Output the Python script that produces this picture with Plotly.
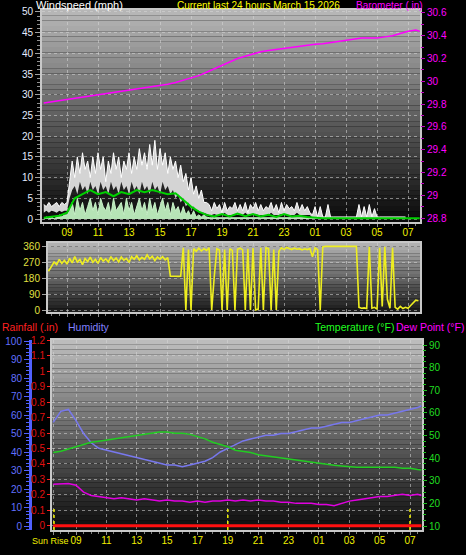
import plotly.graph_objects as go

W, H = 466, 555
def fx(px): return px / W
def fy(py): return 1 - py / H

FONT = "Liberation Sans, Arial, sans-serif"

# ---------------- time grids (hours since midnight Mar 14) ----------------
t10 = [round(7.5 + i / 6, 4) for i in range(146)]          # 10-minute samples
t30 = [7.5 + 0.5 * k for k in range(49)] + [31.75]          # 30-minute samples

hour_ticks = [9, 11, 13, 15, 17, 19, 21, 23, 25, 27, 29, 31]
hour_labels = ["09", "11", "13", "15", "17", "19", "21", "23", "01", "03", "05", "07"]
sun_times = [7.55, 19.0, 31.0]
sun_label = "Sun Rise"

# ---------------- wind (mph) ----------------
gust = [3.5, 3, 4, 3, 3.5, 4, 3, 4, 3.5, 4,
        9, 14, 10, 15, 11, 16, 12, 14, 10, 15, 11, 16, 12, 15, 9, 14, 11, 16, 12, 15,
        10, 14, 12, 16, 11, 15, 12, 17, 13, 16, 12, 18, 13, 19, 12, 17, 13, 16, 11, 15,
        12, 14, 10, 13, 9, 11, 7, 10, 6, 8, 5, 7, 4, 4,
        3.5, 2, 4, 2.5, 3.5, 1.5, 4, 2, 3, 2.5, 4, 2, 3.5, 2, 4, 1.5, 3.5, 2.5, 4, 2, 3.5, 2,
        3, 2.5, 4, 2, 3.5, 1.5, 4, 2, 3.5, 2.5, 3, 2, 4, 2, 3.5, 2, 3, 1.5,
        1, 3, 0.5, 3, 0.5, 0.5, 3.5, 0.5, 0.5, 0.5, 0.5, 0.5, 0.5, 0.5, 0.5, 0.5, 0.5, 0.5,
        3.5, 0.5, 3, 0.5, 3.5, 0.5, 2.5, 0.5, 0.5, 0.5, 0.5, 0.5, 0.5, 0.5, 0.5, 0.5, 0.5, 0.5, 0.5]
gust_low = [1.5, 2, 1.5, 2, 1.8, 1.5, 2, 1.7, 2, 2,
            5, 7, 8, 6, 9, 7, 8, 6, 9, 7, 8, 6, 9, 7, 8, 6, 9, 7, 8, 6,
            9, 7, 8, 6, 9, 7, 8, 6, 9, 7, 8, 6, 9, 7, 8, 6, 9, 7, 8, 6,
            7, 5, 6, 4, 5, 3, 4, 2.5, 3, 2, 2, 1.5, 1.5, 1.2,
            1, 1, 1.2, 1, 1, 1, 1.5, 1, 1, 1, 1.2, 1, 1, 1, 1.5, 1, 1, 1, 1.2, 1, 1, 1,
            1, 1, 1.5, 1, 1, 1, 1.2, 1, 1, 1, 1, 1, 1.5, 1, 1, 1, 1, 1,
            0.3, 0.3, 0.3, 0.3, 0.3, 0.3, 0.3, 0.3, 0.3, 0.3, 0.3, 0.3, 0.3, 0.3, 0.3, 0.3, 0.3, 0.3,
            0.3, 0.3, 0.3, 0.3, 0.3, 0.3, 0.3, 0.3, 0.3, 0.3, 0.3, 0.3, 0.3, 0.3, 0.3, 0.3, 0.3, 0.3, 0.3]
speed = [0, 0.5, 0, 0.5, 0, 0.5, 1, 0.5, 1, 1,
         2, 4, 1, 5, 2, 4, 1, 3, 5, 2, 4, 1, 5, 3, 2, 4, 1, 5, 2, 3,
         4, 1, 5, 2, 4, 1, 3, 5, 2, 4, 1, 5, 2, 4, 1, 3, 5, 2, 4, 1,
         4, 2, 3, 1, 3, 1, 2, 0.5, 2, 0.5, 1, 0.5, 1, 0.5,
         0.3, 0.3, 0.3, 0.3, 0.3, 0.3, 0.3, 0.3, 0.3, 0.3, 0.3, 0.3, 0.3, 0.3, 0.3, 0.3, 0.3, 0.3, 0.3, 0.3, 0.3, 0.3,
         0.3, 0.3, 0.3, 0.3, 0.3, 0.3, 0.3, 0.3, 0.3, 0.3, 0.3, 0.3, 0.3, 0.3, 0.3, 0.3, 0.3, 0.3,
         0.3, 0.3, 0.3, 0.3, 0.3, 0.3, 0.3, 0.3, 0.3, 0.3, 0.3, 0.3, 0.3, 0.3, 0.3, 0.3, 0.3, 0.3,
         0.3, 0.3, 0.3, 0.3, 0.3, 0.3, 0.3, 0.3, 0.3, 0.3, 0.3, 0.3, 0.3, 0.3, 0.3, 0.3, 0.3, 0.3, 0.3]
wind_avg = [0.3, 0.5, 0.8, 1.5, 5, 6, 7, 6, 6.5, 5.5, 6.5, 6, 7, 6.5, 7, 6.5, 6, 6.2,
            4.5, 3, 1.8, 1, 0.6, 1.2, 0.6, 1.3, 0.7, 1.2, 0.6, 1.0, 0.5, 1.2, 0.6, 0.8, 0.5,
            0.3, 0.2, 0.2, 0.2, 0.2, 0.2, 0.2, 0.2, 0.2, 0.2, 0.2, 0.2, 0.2, 0.2, 0.2]

# ---------------- barometer (in) ----------------
baro = [29.81, 29.82, 29.83, 29.84, 29.85, 29.86, 29.87, 29.88, 29.89, 29.90,
        29.91, 29.92, 29.93, 29.94, 29.95, 29.96, 29.975, 29.99, 30.01, 30.03,
        30.05, 30.08, 30.11, 30.14, 30.17, 30.20, 30.22, 30.24, 30.26, 30.27,
        30.28, 30.29, 30.30, 30.31, 30.32, 30.325, 30.33, 30.34, 30.35, 30.36,
        30.37, 30.38, 30.38, 30.38, 30.39, 30.40, 30.42, 30.44, 30.45, 30.44]

# ---------------- wind direction (deg) ----------------
wind_dir = [215, 225, 222, 245, 270, 255, 285, 262, 280, 258,
            290, 265, 300, 270, 285, 255, 290, 272, 298, 268,
            285, 262, 295, 275, 288, 270, 300, 278, 292, 270,
            298, 280, 290, 268, 300, 285, 305, 282, 296, 285,
            310, 288, 302, 278, 298, 286, 300, 282, 295, 190,
            188, 190, 189, 190, 350, 0, 340, 0, 345, 330,
            348, 332, 345, 335, 350, 0, 190, 345, 338, 0,
            340, 0, 345, 335, 0, 342, 348, 338, 0, 345,
            0, 348, 0, 5, 350, 0, 350, 345, 0, 340,
            0, 330, 350, 340, 352, 345, 340, 348, 342, 345,
            338, 344, 340, 346, 300, 350, 340, 0, 355, 358,
            358, 358, 358, 358, 358, 358, 358, 358, 358, 358,
            358, 358, 15, 10, 12, 8, 355, 10, 15, 5,
            350, 20, 355, 60, 10, 350, 15, 5, 20, 8,
            15, 10, 25, 40, 55, 52]

# ---------------- humidity / temperature / dew point / rain ----------------
humidity = [56, 62, 63, 57, 50, 45, 42, 41, 40, 39, 38, 37, 36, 35, 34, 33, 33, 32, 33, 34,
            35, 37, 40, 42, 44, 46, 47, 48, 49, 49, 50, 50, 51, 52, 53, 53, 54, 55, 56, 56,
            57, 58, 59, 60, 60, 61, 62, 63, 64, 65]
temperature = [42.5, 43, 44, 45, 46, 47, 47.5, 48, 48.5, 49, 49.5, 50, 50.5, 51, 51.5, 51.5,
               51, 51, 50.5, 49.5, 48.5, 47, 46, 45, 43.5, 43, 42.5, 41.5, 41, 40.5, 40, 39.5,
               39, 38.5, 38, 37.5, 37, 36.8, 36.5, 36.2, 36, 36, 36, 36, 36, 36, 35.5, 35.5, 35, 34.8]
dew_point = [28.5, 28.5, 28.8, 28, 25, 23.5, 23, 22.5, 22, 22.5, 22, 21.5, 22, 21.5, 21, 21.5,
             21, 21, 20.5, 21, 20.5, 21, 21, 21.5, 21, 21.5, 21, 21.5, 21, 21, 20.5, 20.5,
             20, 20, 20, 19.5, 19.5, 19, 20, 21, 21.5, 22, 22.5, 23, 23, 23.5, 24, 23.5, 24, 23.5]
rainfall = [0, 0, 0, 0, 0, 0, 0, 0, 0, 0, 0, 0, 0, 0, 0, 0, 0, 0, 0, 0, 0, 0, 0, 0, 0,
            0, 0, 0, 0, 0, 0, 0, 0, 0, 0, 0, 0, 0, 0, 0, 0, 0, 0, 0, 0, 0, 0, 0, 0, 0]

fig = go.Figure()

# wind panel
fig.add_trace(go.Scatter(x=t10, y=gust_low, mode="lines", line=dict(width=0, color="rgba(0,0,0,0)"),
                         xaxis="x", yaxis="y", showlegend=False, hoverinfo="skip"))
fig.add_trace(go.Scatter(x=t10, y=gust, mode="lines", fill="tonexty", fillcolor="#d4d4d4",
                         line=dict(width=1, color="#ffffff"), xaxis="x", yaxis="y", showlegend=False))
fig.add_trace(go.Scatter(x=t10, y=speed, mode="lines", fill="tozeroy", fillcolor="#b6e4b6",
                         line=dict(width=1, color="#c8f2c8"), xaxis="x", yaxis="y", showlegend=False))
fig.add_trace(go.Scatter(x=t30, y=wind_avg, mode="lines", line=dict(width=2, color="#00d000"),
                         xaxis="x", yaxis="y", showlegend=False))
fig.add_trace(go.Scatter(x=t30, y=baro, mode="lines", line=dict(width=1.5, color="#ff00ff"),
                         xaxis="x", yaxis="y2", showlegend=False))
# direction panel
fig.add_trace(go.Scatter(x=t10, y=wind_dir, mode="lines", line=dict(width=1.6, color="#eeee20"),
                         xaxis="x2", yaxis="y3", showlegend=False))
# bottom panel
fig.add_trace(go.Scatter(x=t30, y=humidity, mode="lines", line=dict(width=1.5, color="#7878ee"),
                         xaxis="x3", yaxis="y6", showlegend=False))
fig.add_trace(go.Scatter(x=t30, y=temperature, mode="lines", line=dict(width=1.5, color="#22cc22"),
                         xaxis="x3", yaxis="y7", showlegend=False))
fig.add_trace(go.Scatter(x=t30, y=dew_point, mode="lines", line=dict(width=1.5, color="#e000e0"),
                         xaxis="x3", yaxis="y7", showlegend=False))
fig.add_trace(go.Scatter(x=t30, y=rainfall, mode="lines", line=dict(width=3, color="#ff1010"),
                         xaxis="x3", yaxis="y5", showlegend=False))

# gradient backgrounds
shapes = []
def gradient(x0, x1, y0, y1, ctop, cbot, n=40):
    for k in range(n):
        a = k / (n - 1)
        c = [round(ctop[j] + (cbot[j] - ctop[j]) * a) for j in range(3)]
        ya = y0 + (y1 - y0) * k / n
        yb = y0 + (y1 - y0) * (k + 1) / n
        shapes.append(dict(type="rect", xref="paper", yref="paper", x0=fx(x0), x1=fx(x1),
                           y0=fy(yb), y1=fy(ya), line=dict(width=0),
                           fillcolor="rgb(%d,%d,%d)" % tuple(c), layer="below"))
gradient(42, 420, 10, 222, (182, 182, 182), (10, 10, 10))
gradient(48, 420, 243, 312, (178, 178, 178), (28, 28, 28), n=20)
gradient(52, 422, 340, 530, (188, 188, 188), (14, 14, 14))

for st in sun_times:
    shapes.append(dict(type="line", xref="x3", yref="paper", x0=st, x1=st, y0=fy(530), y1=fy(507),
                       line=dict(color="#f0f000", width=1.5, dash="dot")))

grid = "rgba(215,215,215,0.55)"
axis_font = dict(family=FONT, size=10)
xtick_font = dict(family=FONT, size=10, color="#f0f000")

def xaxis(dom, anchor, rng, labels=True, vals=hour_ticks, texts=hour_labels):
    return dict(domain=[fx(dom[0]), fx(dom[1])], anchor=anchor, range=rng,
                tickmode="array", tickvals=vals, ticktext=texts, showticklabels=labels,
                tickangle=0, tickfont=xtick_font, ticks="outside", ticklen=3, tickcolor="#909090",
                ticklabelstandoff=-3,
                showgrid=True, gridcolor=grid, griddash="dot", gridwidth=1,
                showline=True, linecolor="#c8c8c8", linewidth=2, mirror=True, zeroline=False,
                minor=dict(tickmode="linear", tick0=7, dtick=0.5, ticks="outside", ticklen=2,
                           tickcolor="#808080", showgrid=False))

layout = dict(
    width=W, height=H, margin=dict(l=0, r=0, t=0, b=0, autoexpand=False),
    paper_bgcolor="#000000", plot_bgcolor="rgba(0,0,0,0)",
    showlegend=False, font=dict(family=FONT),
    xaxis=xaxis((42, 420), "y", [7.387, 31.77]),
    xaxis2=xaxis((48, 420), "y3", [7.774, 31.77], labels=False),
    xaxis3=xaxis((52, 422), "y5", [7.419, 31.79], vals=[sun_times[0]] + hour_ticks,
                 texts=[""] + hour_labels),
    yaxis=dict(domain=[fy(222), fy(10)], anchor="x", range=[-0.72, 50.48],
               tickmode="linear", tick0=0, dtick=5, ticks="outside", ticklen=5, tickcolor="#a0a0a0",
               tickfont=dict(axis_font, color="#e4ecff"), showgrid=True, gridcolor=grid,
               griddash="dot", showline=True, linecolor="#c8c8c8", linewidth=2, mirror=True,
               zeroline=False, minor=dict(dtick=1, ticks="outside", ticklen=3, tickcolor="#909090")),
    yaxis2=dict(overlaying="y", side="right", anchor="x", range=[28.765, 30.626],
                tickmode="array", tickvals=[28.8, 29, 29.2, 29.4, 29.6, 29.8, 30, 30.2, 30.4, 30.6],
                ticktext=["28.8", "29", "29.2", "29.4", "29.6", "29.8", "30", "30.2", "30.4", "30.6"],
                ticks="outside", ticklen=4, tickcolor="#c000c0",
                tickfont=dict(axis_font, color="#ff00ff"), showgrid=False, zeroline=False,
                minor=dict(tickmode="linear", tick0=28.8, dtick=0.1, ticks="outside", ticklen=3,
                           tickcolor="#c000c0")),
    yaxis3=dict(domain=[fy(312), fy(243)], anchor="x2", range=[-11.25, 376.9],
                tickmode="array", tickvals=[0, 90, 180, 270, 360], ticks="outside", ticklen=4,
                tickcolor="#a0a0a0", tickfont=dict(axis_font, color="#e0e040"),
                showgrid=True, gridcolor=grid, griddash="dot", showline=True, linecolor="#c8c8c8",
                linewidth=2, mirror=True, zeroline=False),
    yaxis4=dict(overlaying="y3", side="right", anchor="x2", range=[-11.25, 376.9],
                tickmode="array", tickvals=[0, 90, 180, 270, 360], ticktext=["N", "E", "S", "W", "N"],
                ticks="outside", ticklen=12, tickcolor="rgba(0,0,0,0)",
                tickfont=dict(family=FONT, size=13, color="#f0f000"), showgrid=False, zeroline=False),
    yaxis5=dict(domain=[fy(530), fy(340)], anchor="x3", range=[-0.0277, 1.203],
                tickmode="array", tickvals=[0, 0.1, 0.2, 0.3, 0.4, 0.5, 0.6, 0.7, 0.8, 0.9, 1, 1.1, 1.2],
                ticktext=["0", "0.1", "0.2", "0.3", "0.4", "0.5", "0.6", "0.7", "0.8", "0.9", "1", "1.1", "1.2"],
                ticks="outside", ticklen=3, tickcolor="#ff2020",
                tickfont=dict(axis_font, color="#e01010"), showgrid=True, gridcolor=grid,
                griddash="dot", showline=True, linecolor="#c8c8c8", linewidth=2, mirror=True,
                zeroline=False),
    yaxis6=dict(overlaying="y5", anchor="free", position=fx(30), side="left", range=[-2.16, 100.54],
                tickmode="linear", tick0=0, dtick=10, ticks="outside", ticklen=5, tickcolor="#5060ff",
                tickfont=dict(axis_font, color="#6070ff"), showgrid=False, zeroline=False,
                showline=True, linecolor="#5060ff", linewidth=3,
                minor=dict(dtick=2, ticks="outside", ticklen=3, tickcolor="#5060ff")),
    yaxis7=dict(overlaying="y5", side="right", anchor="x3", range=[8.23, 92.21],
                tickmode="linear", tick0=10, dtick=10, ticks="outside", ticklen=4, tickcolor="#20c020",
                tickfont=dict(axis_font, color="#20dd20"), showgrid=False, zeroline=False,
                minor=dict(dtick=2.5, ticks="outside", ticklen=3, tickcolor="#20c020")),
    shapes=shapes,
)

ann = []
def label(text, x, y, color, anchor="left", size=10.5):
    ann.append(dict(text=text, x=fx(x), y=fy(y), xref="paper", yref="paper", xanchor=anchor,
                    yanchor="middle", showarrow=False, font=dict(family=FONT, size=size, color=color)))
label("Windspeed (mph)", 34, 5, "#ffffff", size=11)
label("Current last 24 hours March 15 2026", 258, 5, "#ffff00", anchor="center", size=10)
label("Barometer (.in)", 425, 5.5, "#ff00ff", anchor="right", size=10)
label("Rainfall (.in)", 0, 327, "#ff2020")
label("Humidity", 66, 327, "#8080ff")
label("Temperature (°F)", 313, 327, "#20ff20")
label("Dew Point (°F)", 394, 327, "#ff00ff")
label(sun_label, 71, 541, "#f0f000", anchor="right", size=9)
layout["annotations"] = ann

fig.update_layout(**layout)
fig.write_html("out.html", config={"displayModeBar": False},
               post_script="document.documentElement.style.overflow='hidden';"
                           "document.body.style.margin='0';document.body.style.overflow='hidden';")
